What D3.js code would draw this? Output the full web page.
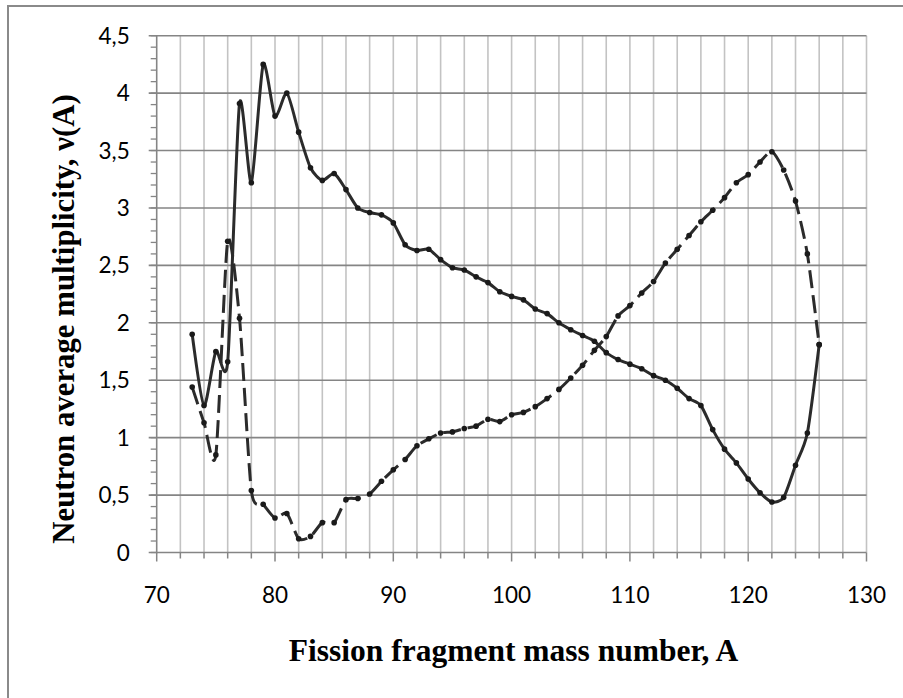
<!DOCTYPE html>
<html>
<head>
<meta charset="utf-8">
<script src="https://cdn.jsdelivr.net/npm/d3@7"></script>
<style>
html,body{margin:0;padding:0;background:#fff;}
svg{display:block;}
</style>
</head>
<body>
<svg id="chart" width="903" height="698"></svg>
<script>
// ---- data ----
const massNumbers = [73,74,75,76,77,78,79,80,81,82,83,84,85,86,87,88,89,90,91,92,93,94,95,96,97,98,99,100,
  101,102,103,104,105,106,107,108,109,110,111,112,113,114,115,116,117,118,119,120,121,122,123,124,125,126];
const nuSolid = [1.90,1.28,1.75,1.66,3.91,3.22,4.25,3.80,4.00,3.66,3.35,3.24,3.30,3.16,3.00,2.96,2.94,2.87,2.68,2.63,
  2.64,2.55,2.48,2.46,2.40,2.35,2.27,2.23,2.20,2.12,2.08,2.00,1.94,1.89,1.84,1.74,1.68,1.64,1.60,1.54,1.50,1.43,1.34,
  1.28,1.07,0.90,0.78,0.64,0.52,0.44,0.48,0.76,1.04,1.81];
const nuDashed = [1.44,1.13,0.85,2.71,2.04,0.54,0.42,0.30,0.34,0.12,0.14,0.26,0.26,0.46,0.47,0.51,0.62,0.72,0.81,0.93,
  0.99,1.04,1.05,1.08,1.10,1.16,1.14,1.20,1.22,1.27,1.34,1.42,1.52,1.63,1.76,1.88,2.06,2.15,2.26,2.36,2.52,2.64,2.76,
  2.88,2.98,3.09,3.22,3.29,3.40,3.49,3.33,3.06,2.60,1.81];
const xTickLabels = [70,80,90,100,110,120,130];
const yTickLabels = ["0","0,5","1","1,5","2","2,5","3","3,5","4","4,5"];
const xTitle = "Fission fragment mass number, A";
const yTitle = "Neutron average multiplicity, \u03BD(A)";

// ---- layout ----
const svg = d3.select("#chart");
const W = 903, H = 698;
const pL = 156.7, pR = 866.5, pT = 35.7, pB = 552.5;
const x = d3.scaleLinear().domain([70,130]).range([pL,pR]);
const y = d3.scaleLinear().domain([0,4.5]).range([pB,pT]);

svg.append("rect").attr("width",W).attr("height",H).attr("fill","#fff");
// outer chart border (only top/left visible in frame)
svg.append("rect").attr("x",8).attr("y",6).attr("width",W+20).attr("height",H+20)
  .attr("fill","none").attr("stroke","#8a8a8a").attr("stroke-width",2);

const g = svg.append("g");

// vertical gridlines every 2 units
const vGrid = d3.range(72,131,2);
g.selectAll(".vg").data(vGrid).join("line")
  .attr("x1",d=>x(d)).attr("x2",d=>x(d)).attr("y1",pT).attr("y2",pB)
  .attr("stroke","#c3c3c3").attr("stroke-width",1.6);

// horizontal gridlines every 0.5
const hGrid = d3.range(1,10).map(i=>i*0.5);
g.selectAll(".hg").data(hGrid).join("line")
  .attr("x1",pL-8).attr("x2",pR).attr("y1",d=>y(d)).attr("y2",d=>y(d))
  .attr("stroke","#858585").attr("stroke-width",1.6);

// y axis minor ticks (0.1)
const yMinor = d3.range(0,46).map(i=>i/10);
g.selectAll(".ymt").data(yMinor).join("line")
  .attr("x1",pL-6).attr("x2",pL).attr("y1",d=>y(d)).attr("y2",d=>y(d))
  .attr("stroke","#858585").attr("stroke-width",1.3);

// x axis ticks
g.selectAll(".xmt").data(d3.range(70,131,2)).join("line")
  .attr("x1",d=>x(d)).attr("x2",d=>x(d)).attr("y1",pB).attr("y2",d=> (d%10===0)? pB+9 : pB+6)
  .attr("stroke","#858585").attr("stroke-width",1.5);

// axes lines
g.append("line").attr("x1",pL).attr("x2",pL).attr("y1",pT).attr("y2",pB+0.8)
  .attr("stroke","#858585").attr("stroke-width",1.6);
g.append("line").attr("x1",pL-8).attr("x2",pR).attr("y1",pB).attr("y2",pB)
  .attr("stroke","#858585").attr("stroke-width",1.6);

// tick labels
const tickFont = "Lato, 'Open Sans', sans-serif";
g.selectAll(".xl").data(xTickLabels).join("text")
  .attr("x",d=>x(d)).attr("y",pB+50)
  .attr("text-anchor","middle").attr("font-family",tickFont).attr("font-size",22.5).attr("fill","#000")
  .text(d=>d);
g.selectAll(".yl").data(yTickLabels).join("text")
  .attr("x",pL-27).attr("y",(d,i)=>y(i*0.5)).attr("dy","0.36em")
  .attr("text-anchor","end").attr("font-family",tickFont).attr("font-size",22.5).attr("fill","#000")
  .text(d=>d);

// axis titles
svg.append("text").attr("x",(pL+pR)/2 + 2).attr("y",661)
  .attr("text-anchor","middle").attr("font-family","'Liberation Serif','Times New Roman',serif")
  .attr("font-weight","bold").attr("font-size",31.5).text(xTitle);
svg.append("text").attr("transform","translate(74,319) rotate(-90)")
  .attr("text-anchor","middle").attr("font-family","'Liberation Serif','Times New Roman',serif")
  .attr("font-weight","bold").attr("font-size",30.8).text(yTitle);

// series
const solidPts = massNumbers.map((a,i)=>[a,nuSolid[i]]);
const dashedPts = massNumbers.map((a,i)=>[a,nuDashed[i]]);
const line = d3.line().x(d=>x(d[0])).y(d=>y(d[1])).curve(d3.curveCardinal.tension(0.3));
const col = "#2b2b2b";

g.append("path").datum(dashedPts).attr("d",line).attr("fill","none")
  .attr("stroke",col).attr("stroke-width",3).attr("stroke-dasharray","18,7");
g.append("path").datum(solidPts).attr("d",line).attr("fill","none")
  .attr("stroke",col).attr("stroke-width",3);

g.selectAll(".ds").data(dashedPts).join("circle")
  .attr("cx",d=>x(d[0])).attr("cy",d=>y(d[1])).attr("r",2.8).attr("fill","#1a1a1a");
g.selectAll(".ss").data(solidPts).join("circle")
  .attr("cx",d=>x(d[0])).attr("cy",d=>y(d[1])).attr("r",2.8).attr("fill","#1a1a1a");
</script>
</body>
</html>
